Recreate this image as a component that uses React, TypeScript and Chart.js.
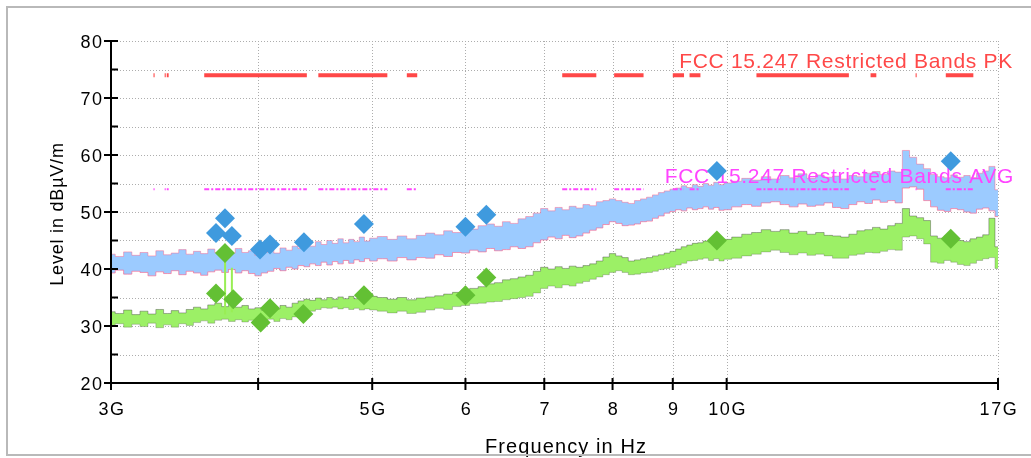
import React, { useEffect, useRef } from 'react';
import { Chart, registerables } from 'chart.js';

Chart.register(...registerables);

// Sweep frequencies in GHz
const traceFreq = [
  3.00, 3.05, 3.10, 3.15, 3.20, 3.25, 3.30, 3.35, 3.40, 3.45,
  3.50, 3.55, 3.60, 3.65, 3.70, 3.75, 3.80, 3.85, 3.90, 3.95,
  4.00, 4.05, 4.10, 4.15, 4.20, 4.25, 4.30, 4.35, 4.40, 4.45,
  4.50, 4.55, 4.60, 4.65, 4.70, 4.75, 4.80, 4.85, 4.90, 4.95, 5.00,
  5.1, 5.2, 5.3, 5.4, 5.5, 5.6, 5.7, 5.8, 5.9, 6.0,
  6.1, 6.2, 6.3, 6.4, 6.5, 6.6, 6.7, 6.8, 6.9, 7.0,
  7.1, 7.2, 7.3, 7.4, 7.5, 7.6, 7.7, 7.8, 7.9, 8.0,
  8.1, 8.2, 8.3, 8.4, 8.5, 8.6, 8.7, 8.8, 8.9, 9.0,
  9.1, 9.2, 9.3, 9.4, 9.5, 9.6, 9.7, 9.8, 9.9, 10.0,
  10.2, 10.4, 10.6, 10.8, 11.0, 11.2, 11.4, 11.6, 11.8, 12.0,
  12.2, 12.4, 12.6, 12.8, 13.0, 13.2, 13.4, 13.6, 13.8, 14.0,
  14.2, 14.4, 14.6, 14.8, 15.0, 15.2, 15.4, 15.6, 15.8, 16.0,
  16.2, 16.4, 16.6, 16.8, 17.0,
];

// Peak trace: upper / lower edge of the noise band (dBµV/m)
const pkHigh = [
  42.6, 42.2, 43.0, 42.4, 42.9, 42.3, 43.2, 42.5, 42.8, 43.4,
  42.6, 43.1, 42.7, 43.5, 42.9, 43.3, 42.8, 43.6, 42.9, 43.2,
  42.4, 42.9, 43.4, 42.8, 43.7, 43.3, 44.0, 43.6, 44.5, 44.0,
  44.8, 44.3, 45.0, 44.5, 45.3, 44.6, 45.2, 44.8, 45.6, 44.9, 45.4,
  45.7, 45.2, 45.8, 45.3, 45.9, 46.3, 46.0, 46.7, 46.4, 47.3,
  47.0, 47.6, 47.9, 47.5, 48.3, 48.0, 48.8, 49.2, 49.8, 50.6,
  50.2, 50.8, 50.4, 51.0, 50.7, 51.3, 51.1, 51.8, 52.0, 52.3,
  52.0, 51.7, 51.5, 52.0, 52.3, 52.6, 53.0, 53.4, 53.7, 54.0,
  54.2, 54.6, 54.3, 54.8, 54.5, 55.0, 54.7, 55.2, 54.8, 55.1,
  55.4, 55.9, 55.6, 56.2, 55.8, 56.4, 56.0, 56.7, 55.9, 56.5,
  56.1, 56.3, 55.8, 56.4, 56.2, 56.8, 57.1, 56.6, 57.2, 57.0,
  60.8, 59.6, 58.4, 57.6, 56.6, 56.2, 56.0, 56.5, 56.1, 56.4,
  56.0, 56.8, 57.2, 58.0, 53.9,
];
const pkLow = [
  39.3, 39.8, 39.1, 39.6, 39.4, 38.8, 39.5, 39.2, 39.7, 39.0,
  39.6, 39.3, 38.9, 39.5, 39.8, 39.4, 39.9, 39.3, 39.7, 39.2,
  38.8, 39.3, 39.6, 40.1, 39.7, 40.3, 40.0, 40.6, 40.4, 40.9,
  40.6, 41.2, 40.7, 41.3, 40.9, 41.5, 41.0, 41.6, 41.3, 41.8, 41.4,
  41.8, 41.4, 42.0, 41.6, 42.0, 41.9, 42.5, 42.2, 42.9, 42.8,
  43.3, 43.0, 43.6, 43.2, 43.4, 43.9, 43.6, 43.9, 44.6, 45.1,
  45.6, 45.3, 45.9, 45.5, 45.8, 46.3, 46.8, 47.2, 47.8, 48.3,
  48.0, 47.6, 47.7, 47.9, 48.3, 48.4, 48.9, 49.3, 49.8, 50.1,
  50.4, 50.2, 50.7, 50.4, 50.6, 50.9, 50.5, 50.8, 50.3, 50.4,
  50.9, 51.3, 51.0, 51.6, 51.8, 51.3, 50.9, 51.4, 51.0, 51.2,
  51.6, 50.8, 50.6, 51.3, 51.8, 51.5, 52.1, 51.7, 52.0, 51.6,
  54.2, 54.4, 54.0, 52.0, 50.9, 50.3, 50.1, 50.6, 50.4, 50.0,
  49.8, 50.5, 50.7, 50.2, 49.2,
];

// Average trace: upper / lower edge of the noise band (dBµV/m)
const avHigh = [
  32.5, 32.2, 32.8, 32.0, 32.6, 32.1, 32.9, 32.2, 32.7, 32.3,
  32.9, 33.3, 33.0, 33.7, 34.0, 33.4, 33.8, 33.3, 33.6, 33.0,
  33.2, 32.8, 33.4, 33.0, 33.6, 33.3, 34.0, 34.4, 34.7, 34.5,
  34.9, 34.6, 35.0, 34.7, 35.1, 34.8, 35.2, 34.8, 35.1, 34.9, 35.2,
  35.0, 34.7, 35.0, 34.6, 34.9, 35.1, 35.3, 35.6, 35.9, 36.3,
  36.6, 36.9, 37.4, 37.6, 38.1, 38.3, 38.6, 38.9, 39.6, 40.3,
  40.0, 40.4, 40.1, 40.5, 40.3, 40.6, 40.9, 41.4, 42.1, 42.7,
  42.3, 42.0, 41.4, 41.6, 41.8, 42.0, 42.3, 42.5, 42.8, 43.1,
  43.5, 43.9, 44.2, 44.5, 44.6, 44.9, 44.7, 45.1, 44.8, 45.2,
  45.6, 46.1, 46.4, 46.9, 46.6, 46.9, 46.3, 46.6, 46.1, 46.4,
  45.9, 45.8, 45.6, 46.1, 46.7, 46.9, 47.3, 47.0, 47.6, 48.0,
  50.6, 49.3, 49.0, 48.5, 45.8, 45.4, 45.8, 45.3, 45.0, 44.8,
  45.3, 45.6, 46.0, 48.9, 43.9,
];
const avLow = [
  30.0, 30.4, 29.8, 30.3, 29.9, 30.5, 29.7, 30.2, 29.8, 30.4,
  30.1, 30.6, 30.9, 30.5, 31.0, 31.2, 30.8, 31.1, 30.7, 31.0,
  30.5, 30.9, 31.2, 30.8, 31.3, 31.1, 31.6, 32.0, 32.0, 32.6,
  32.9, 33.2, 33.1, 33.3, 33.0, 33.2, 32.9, 33.1, 32.8, 33.0, 32.8,
  32.6, 32.3, 32.6, 32.2, 32.4, 32.8, 33.1, 32.9, 33.4, 33.6,
  33.9, 34.0, 34.2, 34.3, 34.6, 34.8, 35.0, 35.2, 35.8, 36.6,
  37.0, 36.7, 37.2, 37.0, 37.5, 37.8, 38.2, 38.6, 39.0, 39.4,
  39.7, 39.4, 39.0, 39.1, 39.3, 39.4, 39.6, 39.9, 40.1, 40.3,
  40.7, 41.0, 41.4, 41.5, 41.7, 41.9, 41.5, 41.8, 41.4, 41.7,
  41.9, 42.3, 42.6, 43.0, 43.3, 42.9, 42.5, 42.8, 42.4, 42.6,
  42.3, 41.9, 41.9, 42.4, 42.6, 42.9, 42.8, 43.1, 43.4, 43.3,
  45.6, 45.8, 45.3, 44.4, 41.2, 41.0, 41.5, 41.2, 40.8, 40.6,
  41.0, 41.5, 41.8, 42.0, 40.1,
];

// Narrow spikes in the average trace
const avSpikeFreq = [3.75, 3.8];
const avSpikeBase = [32.0, 32.4];
const avSpikeTop = [42.8, 40.2];

// Final measurement markers
const pkMarkFreq = [3.684, 3.749, 3.80, 4.015, 4.094, 4.375, 4.92, 6.0, 6.25, 9.81, 15.5];
const pkMarkLevel = [46.3, 48.9, 45.8, 43.4, 44.3, 44.7, 47.9, 47.4, 49.5, 57.2, 58.9];
const avMarkFreq = [3.684, 3.749, 3.81, 4.02, 4.094, 4.37, 4.92, 6.0, 6.25, 9.81, 15.5];
const avMarkLevel = [35.7, 42.8, 34.7, 30.6, 33.1, 32.1, 35.4, 35.4, 38.5, 45.0, 45.3];

// Restricted bands (GHz) and limits
const bandStart = [3.26, 3.332, 3.3458, 3.6, 4.5, 5.35, 7.25, 8.025, 9.0, 9.3, 10.6, 13.25, 14.47, 15.35];
const bandEnd = [3.267, 3.339, 3.358, 4.4, 5.15, 5.46, 7.75, 8.5, 9.2, 9.5, 12.7, 13.4, 14.5, 16.2];
const pkLimitLevel = 74;
const avLimitLevel = 54;
const pkLimitLabel = 'FCC 15.247 Restricted Bands PK';
const avLimitLabel = 'FCC 15.247 Restricted Bands AVG';

// Axes
const xTickValues = [3, 4, 5, 6, 7, 8, 9, 10, 17];
const xTickLabels = ['3G', '', '5G', '6', '7', '8', '9', '10G', '17G'];
const yMajorValues = [20, 30, 40, 50, 60, 70, 80];
const yMinorValues = [25, 35, 45, 55, 65, 75];
const xTitle = 'Frequency in Hz';
const yTitle = 'Level in dBµV/m';

const FONT = '"Liberation Sans", Arial, Helvetica, sans-serif';

function limitData(level: number) {
  const pts: { x: number; y: number | null }[] = [];
  bandStart.forEach((s, i) => {
    pts.push({ x: s, y: level });
    pts.push({ x: bandEnd[i], y: level });
    pts.push({ x: bandEnd[i], y: null });
  });
  return pts;
}

function spikeData() {
  const pts: { x: number; y: number | null }[] = [];
  avSpikeFreq.forEach((f, i) => {
    pts.push({ x: f, y: avSpikeBase[i] });
    pts.push({ x: f, y: avSpikeTop[i] });
    pts.push({ x: f, y: null });
  });
  return pts;
}

const decor = {
  id: 'decor',
  beforeDraw(chart: any) {
    const { ctx, chartArea: a, scales } = chart;
    const x = scales.x, y = scales.y;
    ctx.save();
    ctx.strokeStyle = '#adadad';
    ctx.lineWidth = 1;
    ctx.setLineDash([1, 2]);
    const yg = [...yMajorValues, ...yMinorValues].filter((v) => v > 20);
    for (const v of yg) {
      const py = Math.round(y.getPixelForValue(v)) + 0.5;
      ctx.beginPath();
      ctx.moveTo(a.left, py);
      ctx.lineTo(a.right, py);
      ctx.stroke();
    }
    for (const v of xTickValues.slice(1)) {
      const px = Math.round(x.getPixelForValue(v)) + 0.5;
      ctx.beginPath();
      ctx.moveTo(px, a.top);
      ctx.lineTo(px, a.bottom);
      ctx.stroke();
    }
    ctx.restore();
  },
  beforeDatasetDraw(chart: any, args: any) {
    if (args.index !== 1) return;
    const { ctx } = chart;
    ctx.save();
    ctx.font = `21px ${FONT}`;
    (ctx as any).letterSpacing = '0.7px';
    ctx.textAlign = 'right';
    ctx.textBaseline = 'alphabetic';
    ctx.fillStyle = '#ff4848';
    ctx.fillText(pkLimitLabel, 1013, 68);
    ctx.fillStyle = '#ff44ff';
    ctx.fillText(avLimitLabel, 1014, 182.5);
    ctx.restore();
  },
  afterDraw(chart: any) {
    const { ctx, chartArea: a, scales } = chart;
    const x = scales.x, y = scales.y;
    ctx.save();
    ctx.strokeStyle = '#000';
    ctx.lineWidth = 2;
    ctx.setLineDash([]);
    ctx.beginPath();
    ctx.moveTo(a.left, a.top);
    ctx.lineTo(a.left, a.bottom);
    ctx.lineTo(a.right, a.bottom);
    ctx.stroke();
    for (const v of yMajorValues) {
      const py = y.getPixelForValue(v);
      ctx.beginPath();
      ctx.moveTo(a.left - 7, py);
      ctx.lineTo(a.left + 7, py);
      ctx.stroke();
    }
    for (const v of yMinorValues) {
      const py = y.getPixelForValue(v);
      ctx.beginPath();
      ctx.moveTo(a.left, py);
      ctx.lineTo(a.left + 7, py);
      ctx.stroke();
    }
    for (const v of xTickValues) {
      const px = x.getPixelForValue(v);
      ctx.beginPath();
      ctx.moveTo(px, a.bottom - (v === 3 ? 0 : 5));
      ctx.lineTo(px, a.bottom + 7);
      ctx.stroke();
    }
    ctx.fillStyle = '#000';
    ctx.font = `18px ${FONT}`;
    (ctx as any).letterSpacing = '1.6px';
    ctx.textBaseline = 'alphabetic';
    ctx.textAlign = 'right';
    for (const v of yMajorValues) {
      const py = y.getPixelForValue(v);
      ctx.fillText(String(v), a.left - 9 + 1.6, py + 6.5);
    }
    ctx.textAlign = 'center';
    xTickValues.forEach((v, i) => {
      if (!xTickLabels[i]) return;
      const px = x.getPixelForValue(v);
      ctx.fillText(xTickLabels[i], px + 1, 415);
    });
    ctx.font = `20px ${FONT}`;
    (ctx as any).letterSpacing = '1.1px';
    ctx.textAlign = 'center';
    ctx.fillText(xTitle, 566, 453);
    ctx.save();
    ctx.translate(63, 214);
    ctx.rotate(-Math.PI / 2);
    ctx.font = `18px ${FONT}`;
    (ctx as any).letterSpacing = '0.8px';
    ctx.fillText(yTitle, 0, 0);
    ctx.restore();
    ctx.strokeStyle = '#b9b9b9';
    ctx.lineWidth = 2;
    ctx.strokeRect(7, 7, 1040, 448);
    ctx.restore();
  },
};

export default function App() {
  const ref = useRef<HTMLCanvasElement>(null);

  useEffect(() => {
    const canvas = ref.current!;
    const toPts = (ys: number[]) => traceFreq.map((f, i) => ({ x: f, y: ys[i] }));
    const chart = new Chart(canvas, {
      type: 'line',
      data: {
        datasets: [
          {
            label: 'PK markers',
            data: pkMarkFreq.map((f, i) => ({ x: f, y: pkMarkLevel[i] })),
            showLine: false,
            pointStyle: 'rectRot',
            pointRadius: 10,
            pointBackgroundColor: '#3f9ade',
            pointBorderWidth: 0,
            order: 0,
          } as any,
          {
            label: 'AVG markers',
            data: avMarkFreq.map((f, i) => ({ x: f, y: avMarkLevel[i] })),
            showLine: false,
            pointStyle: 'rectRot',
            pointRadius: 10,
            pointBackgroundColor: '#63c034',
            pointBorderWidth: 0,
            order: 1,
          },
          {
            label: 'PK limit',
            data: limitData(pkLimitLevel),
            borderColor: '#ff4848',
            borderWidth: 4,
            pointRadius: 0,
            spanGaps: false,
            order: 2,
          },
          {
            label: 'AVG limit',
            data: limitData(avLimitLevel),
            borderColor: '#ff44ff',
            borderWidth: 2,
            borderDash: [5, 2, 2, 2],
            pointRadius: 0,
            spanGaps: false,
            order: 3,
          },
          {
            label: 'AVG spikes',
            data: spikeData(),
            borderColor: '#99ee55',
            borderWidth: 2,
            pointRadius: 0,
            spanGaps: false,
            order: 4,
          },
          {
            label: 'AVG high',
            data: toPts(avHigh),
            borderColor: 'rgba(60,60,60,0.4)',
            borderWidth: 1,
            backgroundColor: '#9cf066',
            fill: '+1',
            stepped: 'middle',
            pointRadius: 0,
            order: 5,
          },
          {
            label: 'AVG low',
            data: toPts(avLow),
            borderColor: 'rgba(60,60,60,0.25)',
            borderWidth: 1,
            pointRadius: 0,
            stepped: 'middle',
            fill: false,
            order: 6,
          },
          {
            label: 'PK high',
            data: toPts(pkHigh),
            borderColor: 'rgba(255,90,130,0.45)',
            borderWidth: 1,
            backgroundColor: '#9ccbff',
            fill: '+1',
            stepped: 'middle',
            pointRadius: 0,
            order: 7,
          },
          {
            label: 'PK low',
            data: toPts(pkLow),
            borderColor: 'rgba(255,90,130,0.6)',
            borderWidth: 1,
            pointRadius: 0,
            stepped: 'middle',
            fill: false,
            order: 8,
          },
        ],
      },
      options: {
        responsive: false,
        animation: false,
        devicePixelRatio: 1,
        layout: { padding: { left: 111, right: 33, top: 41, bottom: 75 } },
        plugins: {
          legend: { display: false },
          tooltip: { enabled: false },
          filler: { drawTime: 'beforeDatasetsDraw' },
        } as any,
        scales: {
          x: { type: 'logarithmic', min: 3, max: 17, display: false },
          y: { type: 'linear', min: 20, max: 80, display: false },
        },
      },
      plugins: [decor],
    });
    return () => chart.destroy();
  }, []);

  return (
    <div style={{ position: 'absolute', left: 0, top: 0, width: 1031, height: 458, background: '#fff' }}>
      <canvas ref={ref} width={1031} height={458} style={{ display: 'block', width: 1031, height: 458 }} />
    </div>
  );
}
